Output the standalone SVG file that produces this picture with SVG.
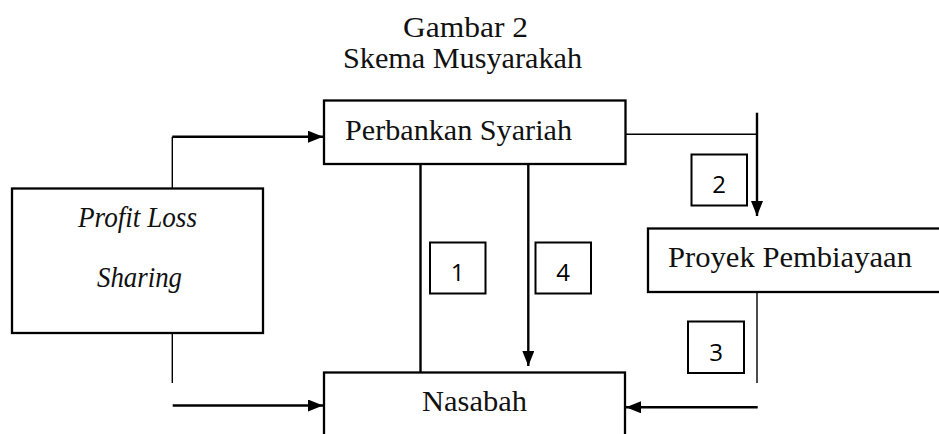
<svg xmlns="http://www.w3.org/2000/svg" width="939" height="434" viewBox="0 0 939 434">
<style>
.box{fill:#fff;stroke:#000;stroke-width:2.3}
.nb{fill:#fff;stroke:#000;stroke-width:2}
.t{font-family:"Liberation Serif","Times New Roman",serif;fill:#111}
.n{font-family:"Open Sans","Liberation Sans",sans-serif;font-size:24px;fill:#000;text-anchor:middle}
.thin{stroke:#000;stroke-width:1.4;fill:none}
.thick{stroke:#000;stroke-width:2.4;fill:none}
</style>
<defs>
<marker id="ah" markerUnits="userSpaceOnUse" markerWidth="15" markerHeight="12" refX="15" refY="6" orient="auto">
<path d="M0,0 L15,6 L0,12 z" fill="#000"/>
</marker>
</defs>
<g id="title">
<text class="t" x="465.5" y="37" font-size="30" text-anchor="middle" textLength="125" lengthAdjust="spacingAndGlyphs">Gambar 2</text>
<text class="t" x="462.5" y="68" font-size="30" text-anchor="middle" textLength="239" lengthAdjust="spacingAndGlyphs">Skema Musyarakah</text>
</g>
<g id="connectors">
<path class="thin" d="M172.3,206 V136.7"/>
<path class="thick" d="M172.3,136.7 H323" marker-end="url(#ah)"/>
<path class="thin" d="M172.3,333 V383"/>
<path class="thick" d="M172.7,405.5 H323" marker-end="url(#ah)"/>
<path class="thin" d="M626,134.3 H757"/>
<path class="thick" d="M757,112.7 V216" marker-end="url(#ah)"/>
<path class="thin" d="M757,292.3 V383"/>
<path class="thick" d="M757.7,407.3 H626" marker-end="url(#ah)"/>
<path class="thick" d="M420.5,164 V372"/>
<path class="thick" d="M528.3,164 V366" marker-end="url(#ah)"/>
</g>
<g id="perbankan">
<rect class="box" x="324" y="100.5" width="301.5" height="63.5"/>
<text class="t" x="345" y="140" font-size="29" textLength="227" lengthAdjust="spacingAndGlyphs">Perbankan Syariah</text>
</g>
<g id="profit">
<rect class="box" x="12" y="188.5" width="251" height="144.5"/>
<text class="t" x="78" y="227" font-size="29" font-style="italic" textLength="119" lengthAdjust="spacingAndGlyphs">Profit Loss</text>
<text class="t" x="97" y="287" font-size="29" font-style="italic" textLength="85" lengthAdjust="spacingAndGlyphs">Sharing</text>
</g>
<g id="proyek">
<rect class="box" x="648" y="228.5" width="300" height="63.5"/>
<text class="t" x="668" y="267" font-size="29" textLength="244" lengthAdjust="spacingAndGlyphs">Proyek Pembiayaan</text>
</g>
<g id="nasabah">
<rect class="box" x="324" y="372.5" width="301" height="80"/>
<text class="t" x="422" y="411" font-size="29" textLength="105" lengthAdjust="spacingAndGlyphs">Nasabah</text>
</g>
<g id="label1">
<rect class="nb" x="430" y="242.5" width="55.5" height="51"/>
<text class="n" x="457.5" y="281">1</text>
</g>
<g id="label4">
<rect class="nb" x="535.5" y="242.5" width="55.5" height="51"/>
<text class="n" x="563" y="281">4</text>
</g>
<g id="label2">
<rect class="nb" x="691.5" y="154.5" width="55.5" height="51"/>
<text class="n" x="719" y="193">2</text>
</g>
<g id="label3">
<rect class="nb" x="688" y="321.5" width="56" height="51.5"/>
<text class="n" x="716" y="361">3</text>
</g>
</svg>
